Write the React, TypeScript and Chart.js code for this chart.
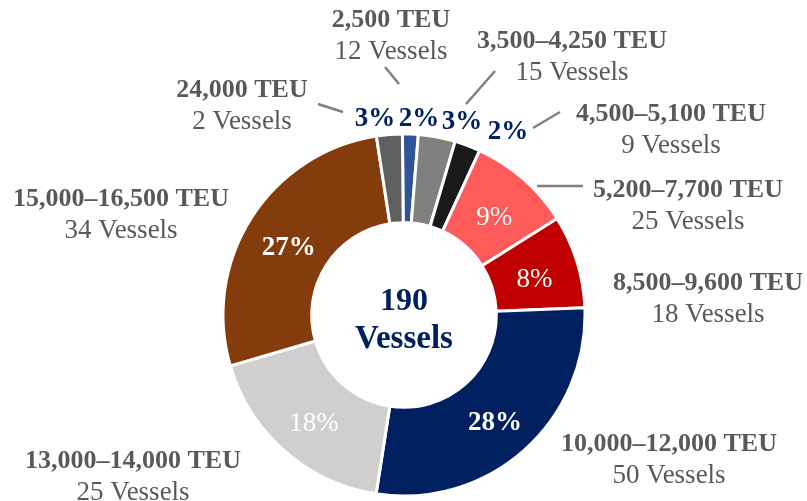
import React, { useEffect, useRef } from "react";
import { Chart, registerables } from "chart.js";

Chart.register(...registerables);

// ---- data ----
const categories = [
  "2,500 TEU",
  "3,500–4,250 TEU",
  "4,500–5,100 TEU",
  "5,200–7,700 TEU",
  "8,500–9,600 TEU",
  "10,000–12,000 TEU",
  "13,000–14,000 TEU",
  "15,000–16,500 TEU",
  "24,000 TEU",
];
const vesselCounts = [12, 15, 9, 25, 18, 50, 25, 34, 2];
const capacityShare = [1.4, 3.3, 2.3, 9.2, 8.3, 28.1, 18.0, 27.1, 2.3];
const shareLabels = ["2%", "3%", "2%", "9%", "8%", "28%", "18%", "27%", "3%"];
const totalVessels = "190";

// ---- styles ----
const COLORS = [
  "#2F5597",
  "#808080",
  "#1A1A1A",
  "#FF5B5B",
  "#C00000",
  "#002060",
  "#D0CECE",
  "#843C0C",
  "#5F5F5F",
];
const FONT = '"Liberation Serif", "Times New Roman", serif';
const TEXT_GRAY = "#595959";
const NAVY = "#002060";

// share label drawn inside the ring (true) or outside (false), and bold flag
const INSIDE = [false, false, false, true, true, true, true, true, false];
const INSIDE_BOLD = [false, false, false, false, false, true, false, true, false];

// positions of annotation text (canvas px): [centerX, baseline of first line]
const CAT_POS: [number, number][] = [
  [391, 27],
  [572, 48],
  [671, 121],
  [688, 197],
  [708, 290],
  [669, 451],
  [133, 468],
  [121, 206],
  [242, 97],
];
// outside share label positions [centerX, baseline]
const OUT_POS: ([number, number] | null)[] = [
  [419, 126],
  [462, 129],
  [508, 139],
  null,
  null,
  null,
  null,
  null,
  [375, 126],
];
// leader lines [x1,y1,x2,y2]
const LEADERS: ([number, number, number, number] | null)[] = [
  [385, 67, 399, 84],
  [495, 71, 466, 104],
  [560, 112, 533, 128],
  [537, 186, 583, 186],
  null,
  null,
  null,
  null,
  [318, 104, 343, 112],
];

const labelPlugin = {
  id: "labels",
  afterDatasetsDraw(chart: any) {
    const ctx = chart.ctx as CanvasRenderingContext2D;
    const meta = chart.getDatasetMeta(0);
    ctx.save();
    ctx.textAlign = "center";
    ctx.textBaseline = "alphabetic";

    // leader lines
    ctx.strokeStyle = "#808080";
    ctx.lineWidth = 2.5;
    LEADERS.forEach((l) => {
      if (!l) return;
      ctx.beginPath();
      ctx.moveTo(l[0], l[1]);
      ctx.lineTo(l[2], l[3]);
      ctx.stroke();
    });

    // share labels
    meta.data.forEach((arc: any, i: number) => {
      if (INSIDE[i]) {
        const p = arc.tooltipPosition();
        ctx.fillStyle = "#FFFFFF";
        ctx.font = `${INSIDE_BOLD[i] ? "bold " : ""}27px ${FONT}`;
        ctx.fillText(shareLabels[i], p.x, p.y + 13);
      } else {
        const pos = OUT_POS[i];
        if (!pos) return;
        ctx.fillStyle = NAVY;
        ctx.font = `bold 27px ${FONT}`;
        ctx.fillText(shareLabels[i], pos[0], pos[1]);
      }
    });

    // category labels
    categories.forEach((c, i) => {
      const [x, y] = CAT_POS[i];
      ctx.fillStyle = TEXT_GRAY;
      ctx.font = `bold 26px ${FONT}`;
      ctx.fillText(c, x, y);
      ctx.font = `27px ${FONT}`;
      ctx.fillText(`${vesselCounts[i]} Vessels`, x, y + 32);
    });

    // center text
    const cx = meta.data[0].x;
    const cy = meta.data[0].y;
    ctx.fillStyle = NAVY;
    ctx.font = `bold 32px ${FONT}`;
    ctx.fillText(totalVessels, cx, cy - 5);
    ctx.font = `bold 33px ${FONT}`;
    ctx.fillText("Vessels", cx, cy + 33);
    ctx.restore();
  },
};

export default function App() {
  const ref = useRef<HTMLCanvasElement>(null);
  useEffect(() => {
    if (!ref.current) return;
    const chart = new Chart(ref.current, {
      type: "doughnut",
      data: {
        labels: categories,
        datasets: [
          {
            data: capacityShare,
            backgroundColor: COLORS,
            borderColor: "#FFFFFF",
            borderWidth: 3,
            hoverOffset: 0,
          },
        ],
      },
      options: {
        animation: false,
        responsive: false,
        maintainAspectRatio: false,
        rotation: -0.5,
        radius: 181,
        cutout: "51%",
        layout: { padding: { left: 1, right: 0, top: 129, bottom: 0 } },
        plugins: {
          legend: { display: false },
          tooltip: { enabled: false },
        },
      },
      plugins: [labelPlugin],
    });
    return () => chart.destroy();
  }, []);
  return (
    <div style={{ position: "fixed", left: 0, top: 0, width: 807, height: 501, background: "#fff" }}>
      <canvas ref={ref} width={807} height={501} style={{ width: 807, height: 501 }} />
    </div>
  );
}
